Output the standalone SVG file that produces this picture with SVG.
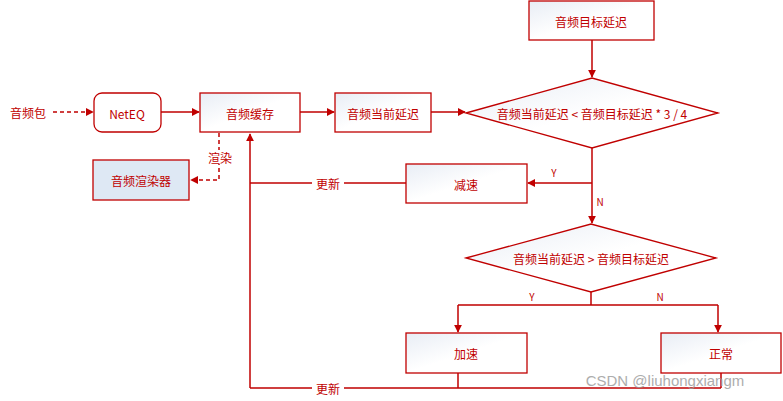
<svg xmlns="http://www.w3.org/2000/svg" width="783" height="401" viewBox="0 0 783 401">
<style>
text{font-family:"Noto Sans CJK SC","Liberation Sans",sans-serif;font-size:12px;fill:#c00000;text-anchor:middle;dominant-baseline:central}
.b{fill:url(#g);stroke:#c00000;stroke-width:1.3}
.l{fill:none;stroke:#c00000;stroke-width:1.5}
.d{stroke-dasharray:4 3}
.s{font-size:10px}
</style>
<defs>
<linearGradient id="g" x1="0" y1="0" x2="1" y2="1"><stop offset="0" stop-color="#e8edf5"/><stop offset="0.5" stop-color="#ffffff"/></linearGradient>
<marker id="a" viewBox="0 0 10 10" refX="9" refY="5" markerWidth="8" markerHeight="8" markerUnits="userSpaceOnUse" orient="auto"><path d="M0,0L10,5L0,10z" fill="#c00000"/></marker>
</defs>
<g id="connectors">
<path class="l d" d="M53,112H93" marker-end="url(#a)"/>
<path class="l" d="M161,112H199" marker-end="url(#a)"/>
<path class="l" d="M300,112H334" marker-end="url(#a)"/>
<path class="l" d="M431,112H465" marker-end="url(#a)"/>
<path class="l" d="M592,40V77" marker-end="url(#a)"/>
<path class="l d" d="M219,133V180H191" marker-end="url(#a)"/>
<path class="l" d="M592,148V223" marker-end="url(#a)"/>
<path class="l" d="M592,183H528" marker-end="url(#a)"/>
<path class="l" d="M406,183H250" />
<path class="l" d="M250,388V134" marker-end="url(#a)"/>
<path class="l" d="M591,292V305M458,305H718"/>
<path class="l" d="M458,305V332" marker-end="url(#a)"/>
<path class="l" d="M718,305V332" marker-end="url(#a)"/>
<path class="l" d="M458,373V388M721,373V388M250,388H721"/>
<rect x="312" y="176" width="32" height="14" fill="#fff"/>
<rect x="312" y="381" width="32" height="14" fill="#fff"/>
<rect x="206" y="150" width="28" height="14" fill="#fff"/>
<text x="328" y="183">更新</text>
<text x="328" y="388">更新</text>
<text x="220" y="157">渲染</text>
<text class="s" x="554" y="172">Y</text>
<text class="s" x="600" y="201">N</text>
<text class="s" x="532" y="296">Y</text>
<text class="s" x="660" y="296">N</text>
</g>
<g id="n-pkt"><text x="28" y="112">音频包</text></g>
<g id="n-neteq"><rect x="94" y="93" width="67" height="39" rx="8" fill="#fff" stroke="#c00000" stroke-width="1.3"/><text x="127" y="113">NetEQ</text></g>
<g id="n-cache"><rect class="b" x="200" y="93" width="100" height="39"/><text x="250" y="113">音频缓存</text></g>
<g id="n-cur"><rect class="b" x="335" y="93" width="96" height="39"/><text x="383" y="113">音频当前延迟</text></g>
<g id="n-target"><rect class="b" x="529" y="1" width="125" height="39"/><text x="591" y="21">音频目标延迟</text></g>
<g id="n-d1"><path class="b" d="M466,113L592,78L718,113L592,148z" fill="#fff"/><text x="592" y="113">音频当前延迟 &lt; 音频目标延迟 * 3 / 4</text></g>
<g id="n-render"><rect x="93" y="160" width="96" height="40" fill="#dee8f4" stroke="#c00000" stroke-width="1.3"/><text x="141" y="180">音频渲染器</text></g>
<g id="n-slow"><rect class="b" x="406" y="164" width="121" height="39"/><text x="466" y="184">减速</text></g>
<g id="n-d2"><path class="b" d="M466,258L591,224L716,258L591,292z" fill="#fff"/><text x="591" y="258">音频当前延迟 &gt; 音频目标延迟</text></g>
<g id="n-fast"><rect class="b" x="406" y="333" width="121" height="40"/><text x="466" y="353">加速</text></g>
<g id="n-norm"><rect class="b" x="661" y="333" width="120" height="40"/><text x="721" y="353">正常</text></g>
<text x="665" y="380" style="fill:#999;font-size:15px;font-family:'Liberation Sans',sans-serif;opacity:0.8">CSDN @liuhongxiangm</text>
</svg>
